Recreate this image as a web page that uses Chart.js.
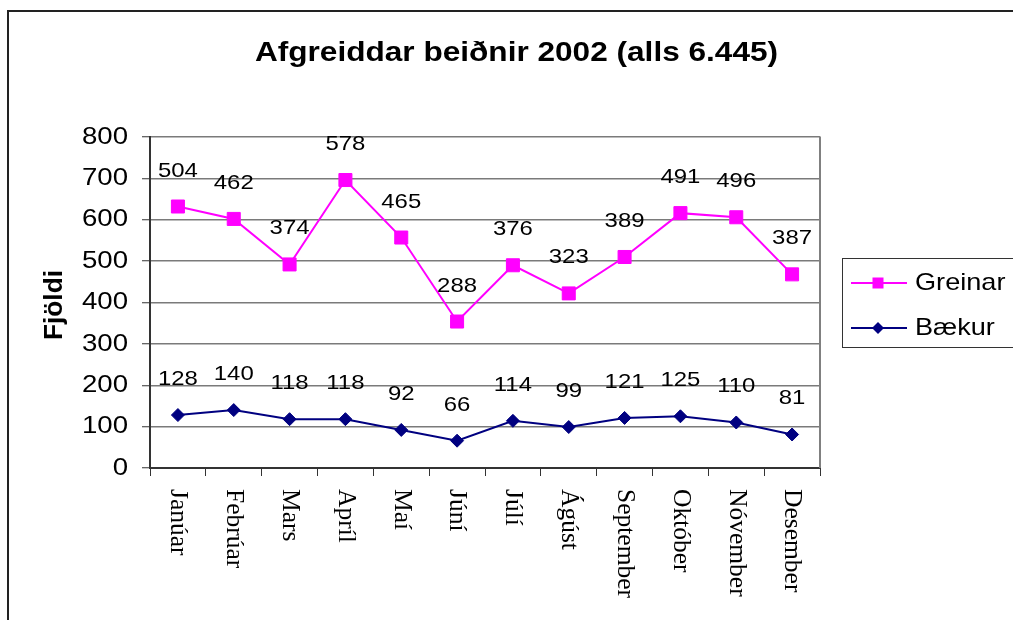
<!DOCTYPE html>
<html>
<head>
<meta charset="utf-8">
<script src="https://cdn.jsdelivr.net/npm/chart.js@4/dist/chart.umd.min.js"></script>
<style>
  html, body { margin: 0; padding: 0; background: #fff; }
  canvas { display: block; }
</style>
</head>
<body>
<canvas id="c" width="1013" height="620"></canvas>
<script>
const chartTitle = 'Afgreiddar beiðnir 2002 (alls 6.445)';
const yAxisTitle = 'Fjöldi';
const months = ['Janúar', 'Febrúar', 'Mars', 'Apríl', 'Maí', 'Júní', 'Júlí', 'Ágúst', 'September', 'Október', 'Nóvember', 'Desember'];
const greinar = [504, 462, 374, 578, 465, 288, 376, 323, 389, 491, 496, 387];
const baekur = [128, 140, 118, 118, 92, 66, 114, 99, 121, 125, 110, 81];
const yMin = 0, yMax = 800, yStep = 100;

const SANS = '"Liberation Sans", Arial, sans-serif';
const SERIF = '"Liberation Serif", "Times New Roman", serif';

function sText(ctx, text, x, y, font, sx, align, baseline, rot) {
  ctx.save();
  ctx.font = font;
  ctx.fillStyle = '#000';
  ctx.textAlign = align;
  ctx.textBaseline = baseline;
  ctx.translate(x, y);
  if (rot) ctx.rotate(rot);
  ctx.scale(sx, 1);
  ctx.fillText(text, 0, 0);
  ctx.restore();
}

function marker(ctx, style, x, y, r, color) {
  ctx.save();
  ctx.fillStyle = color;
  ctx.beginPath();
  if (style === 'rect') {
    ctx.rect(x - r, y - r, 2 * r, 2 * r);
  } else {
    ctx.moveTo(x, y - r); ctx.lineTo(x + r, y); ctx.lineTo(x, y + r); ctx.lineTo(x - r, y); ctx.closePath();
  }
  ctx.fill();
  ctx.restore();
}

const excelPlugin = {
  id: 'excelPlugin',
  beforeDraw(chart) {
    const ctx = chart.ctx;
    ctx.save();
    ctx.fillStyle = '#fff';
    ctx.fillRect(0, 0, chart.width, chart.height);
    ctx.strokeStyle = '#222';
    ctx.lineWidth = 2;
    ctx.strokeRect(8, 11, 1200, 800);
    ctx.restore();
  },
  beforeDatasetsDraw(chart) {
    const ctx = chart.ctx, a = chart.chartArea;
    ctx.save();
    ctx.strokeStyle = '#808080';
    ctx.lineWidth = 2;
    ctx.beginPath();
    ctx.moveTo(a.right, a.top - 0.5);
    ctx.lineTo(a.right, a.bottom);
    ctx.stroke();
    ctx.restore();
  },
  afterDatasetsDraw(chart) {
    const ctx = chart.ctx;
    chart.data.datasets.forEach((ds, di) => {
      const meta = chart.getDatasetMeta(di);
      meta.data.forEach((el, i) => {
        sText(ctx, String(ds.data[i]), el.x, el.y - 30, '21px ' + SANS, 1.14, 'center', 'alphabetic');
      });
    });
  },
  afterDraw(chart) {
    const ctx = chart.ctx;
    const xs = chart.scales.x, ys = chart.scales.y;
    // title
    sText(ctx, chartTitle, 516.5, 60.5, 'bold 28px ' + SANS, 1.128, 'center', 'alphabetic');
    // y axis title
    sText(ctx, yAxisTitle, 61.5, 305, 'bold 25px ' + SANS, 1.05, 'center', 'alphabetic', -Math.PI / 2);
    // y tick labels
    ys.ticks.forEach(t => {
      sText(ctx, String(t.value), 128, ys.getPixelForValue(t.value), '24px ' + SANS, 1.15, 'right', 'middle');
    });
    // x tick labels
    chart.data.labels.forEach((lab, i) => {
      sText(ctx, lab, xs.getPixelForValue(i), 489, '25.5px ' + SERIF, 1, 'left', 'middle', Math.PI / 2);
    });
    // legend
    ctx.save();
    ctx.strokeStyle = '#333';
    ctx.lineWidth = 1;
    ctx.strokeRect(842.5, 258.5, 300, 89);
    ctx.restore();
    const order = chart.data.datasets.slice().reverse();
    order.forEach((ds, k) => {
      const y = 283 + k * 45;
      ctx.save();
      ctx.strokeStyle = ds.borderColor;
      ctx.lineWidth = 2;
      ctx.beginPath();
      ctx.moveTo(851, y); ctx.lineTo(907, y);
      ctx.stroke();
      ctx.restore();
      marker(ctx, ds.pointStyle, 878, y, ds.pointStyle === 'rect' ? 5.5 : 6, ds.borderColor);
      sText(ctx, ds.label, 915, y, '24px ' + SANS, 1.13, 'left', 'middle');
    });
  }
};

new Chart(document.getElementById('c'), {
  type: 'line',
  data: {
    labels: months,
    datasets: [
      {
        label: 'Bækur',
        data: baekur,
        borderColor: '#000080',
        backgroundColor: '#000080',
        borderWidth: 2,
        pointStyle: 'rectRot',
        pointRadius: 6.5,
        pointBorderWidth: 1,
        tension: 0,
        fill: false
      },
      {
        label: 'Greinar',
        data: greinar,
        borderColor: '#FF00FF',
        backgroundColor: '#FF00FF',
        borderWidth: 2,
        pointStyle: 'rect',
        pointRadius: 9.2,
        pointBorderWidth: 1,
        tension: 0,
        fill: false
      }
    ]
  },
  options: {
    responsive: false,
    animation: false,
    devicePixelRatio: 1,
    layout: { padding: { left: 0, top: 137, right: 193, bottom: 0 } },
    plugins: {
      legend: { display: false },
      title: { display: false },
      tooltip: { enabled: false }
    },
    scales: {
      x: {
        type: 'category',
        offset: true,
        grid: { offset: true, drawOnChartArea: false, drawTicks: true, tickLength: 8, color: '#333', lineWidth: 1 },
        border: { display: true, color: '#333', width: 2 },
        ticks: { display: false },
        afterFit(s) { s.height = 152; }
      },
      y: {
        stacked: true,
        min: yMin,
        max: yMax,
        ticks: { display: false, stepSize: yStep },
        grid: { color: '#7a7a7a', lineWidth: 1.5, tickColor: '#333', tickLength: 8, drawTicks: true, tickWidth: 1 },
        border: { display: true, color: '#333', width: 2 },
        afterFit(s) { s.width = 150; }
      }
    }
  },
  plugins: [excelPlugin]
});
</script>
</body>
</html>
